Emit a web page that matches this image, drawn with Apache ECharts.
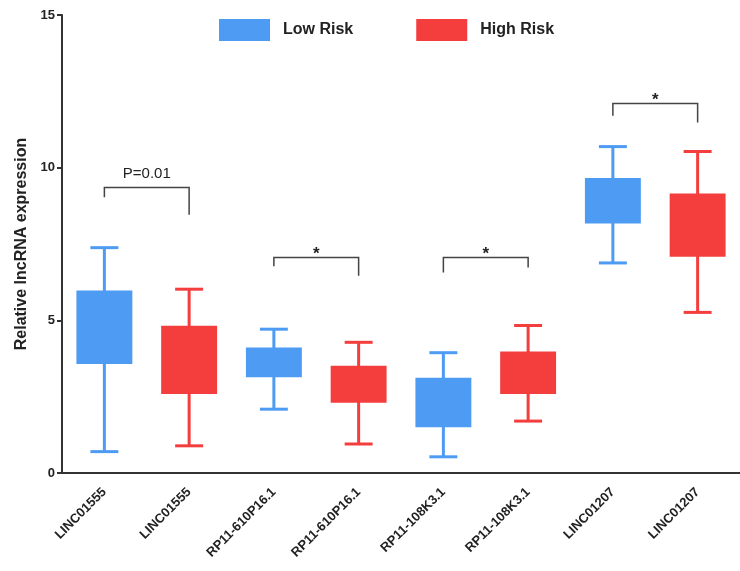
<!DOCTYPE html>
<html><head><meta charset="utf-8">
<script src="https://cdn.jsdelivr.net/npm/echarts@6/dist/echarts.min.js"></script>
<style>html,body{margin:0;padding:0;background:#fff}#c{width:740px;height:571px}</style>
</head><body><div id="c"></div>
<script>
const categories = ['LINC01555','LINC01555','RP11-610P16.1','RP11-610P16.1','RP11-108K3.1','RP11-108K3.1','LINC01207','LINC01207'];
const yTicks = [0, 5, 10, 15];
// [category index, lower whisker, Q1, Q3, upper whisker]
const lowRisk = [[0,0.70,3.57,5.98,7.38],[2,2.09,3.14,4.11,4.71],[4,0.53,1.50,3.12,3.94],[6,6.88,8.17,9.66,10.69]];
const highRisk = [[1,0.89,2.59,4.82,6.02],[3,0.95,2.30,3.51,4.28],[5,1.70,2.59,3.98,4.83],[7,5.26,7.08,9.15,10.53]];
// [from category, to category, bar height, left leg end, right leg end]
const brackets = [[0,1,9.35,9.03,8.46],[2,3,7.06,6.77,6.46],[4,5,7.06,6.57,6.73],[6,7,12.1,11.7,11.48]];
const bracketLabels = ['P=0.01','*','*','*'];

const BLUE = '#4e9bf4', RED = '#f43e3e';
const FONT = 'Arial, "Liberation Sans", sans-serif';

function boxItem(color){
  return function(params, api){
    const x = api.value(0);
    const pMin = api.coord([x, api.value(1)]);
    const pQ1 = api.coord([x, api.value(2)]);
    const pQ3 = api.coord([x, api.value(3)]);
    const pMax = api.coord([x, api.value(4)]);
    const band = api.size([1, 0])[0];
    const bw = band * 0.66, cw = band * 0.33;
    const cx = pQ1[0];
    const ls = {stroke: color, lineWidth: 3};
    return {type: 'group', children: [
      {type: 'line', shape: {x1: cx, y1: pMax[1], x2: cx, y2: pMin[1]}, style: ls},
      {type: 'line', shape: {x1: cx - cw/2, y1: pMax[1], x2: cx + cw/2, y2: pMax[1]}, style: ls},
      {type: 'line', shape: {x1: cx - cw/2, y1: pMin[1], x2: cx + cw/2, y2: pMin[1]}, style: ls},
      {type: 'rect', shape: {x: cx - bw/2, y: pQ3[1], width: bw, height: pQ1[1] - pQ3[1]}, style: {fill: color}}
    ]};
  };
}

function bracketItem(params, api){
  const a = api.coord([api.value(0), api.value(2)]);
  const b = api.coord([api.value(1), api.value(2)]);
  const l = api.coord([api.value(0), api.value(3)]);
  const r = api.coord([api.value(1), api.value(4)]);
  const label = bracketLabels[params.dataIndex];
  const isStar = label === '*';
  return {type: 'group', children: [
    {type: 'polyline', shape: {points: [[a[0], l[1]], [a[0], a[1]], [b[0], b[1]], [b[0], r[1]]]},
     style: {stroke: '#444', lineWidth: 1.5, fill: null}},
    {type: 'text', x: (a[0] + b[0]) / 2, y: a[1] - (isStar ? 3 : 14),
     style: {text: label, fill: '#222', font: (isStar ? 'bold 17px ' : '15px ') + FONT, align: 'center', verticalAlign: 'middle'}}
  ]};
}

const chart = echarts.init(document.getElementById('c'), null, {renderer: 'canvas'});
chart.setOption({
  backgroundColor: '#fff',
  animation: false,
  textStyle: {fontFamily: FONT},
  legend: {
    left: 214, top: 14, itemWidth: 51, itemHeight: 22, itemGap: 63, icon: 'rect',
    data: ['Low Risk', 'High Risk'],
    textStyle: {fontSize: 16, fontWeight: 'bold', color: '#222', padding: [0, 0, 0, 8]}
  },
  grid: {left: 62, top: 15, width: 690, height: 458, containLabel: false},
  xAxis: {
    type: 'category', data: categories,
    axisLine: {lineStyle: {color: '#333', width: 2}},
    axisTick: {alignWithLabel: true, length: 5, lineStyle: {color: '#333', width: 2}},
    axisLabel: {rotate: 45, interval: 0, fontSize: 13, fontWeight: 'bold', color: '#222', margin: 17}
  },
  yAxis: {
    type: 'value', min: 0, max: 15, interval: 5,
    name: 'Relative lncRNA expression', nameLocation: 'middle', nameGap: 27,
    nameTextStyle: {fontSize: 16, fontWeight: 'bold', color: '#222'},
    axisLine: {show: true, lineStyle: {color: '#333', width: 2}},
    axisTick: {show: true, length: 5, lineStyle: {color: '#333', width: 2}},
    axisLabel: {fontSize: 13, fontWeight: 'bold', color: '#222', margin: 7,
      formatter: v => yTicks.includes(v) ? String(v) : ''},
    splitLine: {show: false}
  },
  series: [
    {name: 'Low Risk', type: 'custom', renderItem: boxItem(BLUE), itemStyle: {color: BLUE},
     encode: {x: 0, y: [1, 2, 3, 4]}, data: lowRisk},
    {name: 'High Risk', type: 'custom', renderItem: boxItem(RED), itemStyle: {color: RED},
     encode: {x: 0, y: [1, 2, 3, 4]}, data: highRisk},
    {name: 'brackets', type: 'custom', renderItem: bracketItem, silent: true,
     encode: {x: [0, 1], y: [2, 3, 4]}, data: brackets}
  ]
});
</script></body></html>
